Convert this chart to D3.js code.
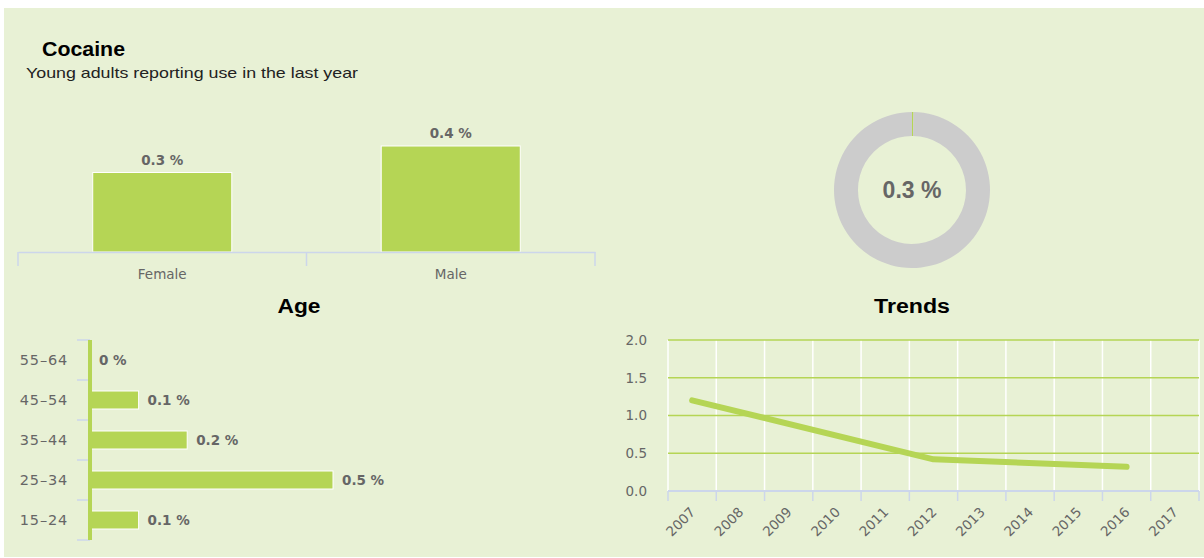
<!DOCTYPE html>
<html>
<head>
<meta charset="utf-8">
<script src="https://cdn.jsdelivr.net/npm/d3@7"></script>
<style>
  html, body { margin: 0; padding: 0; background: #ffffff; }
  svg { display: block; }
</style>
</head>
<body>
<svg id="chart" width="1204" height="558"></svg>
<script>
// ---------- DATA ----------
const titleText = "Cocaine";
const subtitleText = "Young adults reporting use in the last year";

const genderCategories = ["Female", "Male"];
const genderValues = [0.3, 0.4];

const overallValue = 0.3;

const ageCategories = ["55\u201364", "45\u201354", "35\u201344", "25\u201334", "15\u201324"];
const ageValues = [0, 0.1, 0.2, 0.5, 0.1];

const trendYears = ["2007", "2008", "2009", "2010", "2011", "2012", "2013", "2014", "2015", "2016", "2017"];
const trendPointYears = ["2007", "2012", "2016"];
const trendPointValues = [1.2, 0.42, 0.32];
const trendTicks = [0, 0.5, 1.0, 1.5, 2.0];

// ---------- STYLE ----------
const GREEN = "#b5d555";
const BG = "#e8f1d5";
const AXIS = "#ccd6eb";
const GREY_TXT = "#666666";
const LABEL_FONT = "'DejaVu Sans', Verdana, sans-serif";
const TITLE_FONT = "'Liberation Sans', Arial, Helvetica, sans-serif";

const svg = d3.select("#chart");

svg.append("rect").attr("x", 4).attr("y", 8).attr("width", 1200).attr("height", 549).attr("fill", BG);

// Titles
svg.append("text").attr("x", 42).attr("y", 56)
  .attr("font-family", TITLE_FONT).attr("font-weight", "bold").attr("font-size", 19.5)
  .attr("textLength", 83).attr("lengthAdjust", "spacingAndGlyphs")
  .attr("fill", "#000").text(titleText);
svg.append("text").attr("x", 26).attr("y", 78)
  .attr("font-family", TITLE_FONT).attr("font-size", 15)
  .attr("textLength", 332).attr("lengthAdjust", "spacingAndGlyphs")
  .attr("fill", "#222").text(subtitleText);

// ---------- GENDER BARS ----------
const gx = d3.scaleBand().domain(genderCategories).range([18, 595]).paddingInner(0.518).paddingOuter(0.259);
const gy = d3.scaleLinear().domain([0, 0.4]).range([252, 146]);

const gG = svg.append("g");
gG.selectAll("rect.g").data(genderValues).join("rect")
  .attr("x", (d, i) => gx(genderCategories[i]))
  .attr("y", d => gy(d))
  .attr("width", gx.bandwidth())
  .attr("height", d => gy(0) - gy(d))
  .attr("fill", GREEN).attr("stroke", "#fff").attr("stroke-width", 1);
gG.selectAll("text.v").data(genderValues).join("text")
  .attr("x", (d, i) => gx(genderCategories[i]) + gx.bandwidth() / 2)
  .attr("y", d => gy(d) - 8)
  .attr("text-anchor", "middle")
  .attr("font-family", LABEL_FONT).attr("font-weight", "bold").attr("font-size", 13.5)
  .attr("fill", GREY_TXT)
  .text(d => d + " %");

const gAxis = svg.append("g").attr("transform", "translate(0,252)")
  .call(d3.axisBottom(gx).tickSize(0).tickPadding(0));
gAxis.select(".domain").attr("stroke", AXIS).attr("stroke-width", 1.5);
gAxis.selectAll(".tick text").attr("font-family", LABEL_FONT).attr("font-size", 13.5)
  .attr("fill", GREY_TXT).attr("dy", null).attr("y", 27);
const gBounds = genderCategories.map(c => gx(c) - gx.step() * gx.paddingInner() / 2).concat([gx.range()[1]]);
gAxis.selectAll("line.b").data(gBounds).join("line")
  .attr("x1", d => d).attr("x2", d => d).attr("y1", 0).attr("y2", 14)
  .attr("stroke", AXIS).attr("stroke-width", 1.5);

// ---------- DONUT ----------
const pie = d3.pie().sort(null)([overallValue, 100 - overallValue]);
const arc = d3.arc().innerRadius(54).outerRadius(78);
const donut = svg.append("g").attr("transform", "translate(912,190)");
donut.selectAll("path").data(pie).join("path")
  .attr("d", arc)
  .attr("fill", (d, i) => i === 0 ? GREEN : "#cccccc");
donut.append("text").attr("text-anchor", "middle").attr("y", 8)
  .attr("font-family", TITLE_FONT).attr("font-weight", "bold").attr("font-size", 23)
  .attr("fill", GREY_TXT).text(overallValue + " %");

// ---------- SECTION TITLES ----------
svg.append("text").attr("x", 299).attr("y", 313).attr("text-anchor", "middle")
  .attr("font-family", TITLE_FONT).attr("font-weight", "bold").attr("font-size", 19.5)
  .attr("textLength", 43).attr("lengthAdjust", "spacingAndGlyphs")
  .attr("fill", "#000").text("Age");
svg.append("text").attr("x", 912).attr("y", 313).attr("text-anchor", "middle")
  .attr("font-family", TITLE_FONT).attr("font-weight", "bold").attr("font-size", 19.5)
  .attr("textLength", 76).attr("lengthAdjust", "spacingAndGlyphs")
  .attr("fill", "#000").text("Trends");

// ---------- AGE BARS ----------
const ay = d3.scaleBand().domain(ageCategories).range([340, 540]).paddingInner(0.55).paddingOuter(0.275);
const ax = d3.scaleLinear().domain([0, 0.5]).range([90, 333]);
const aG = svg.append("g");
const aBounds = ageCategories.map(c => ay(c) - ay.step() * ay.paddingInner() / 2).concat([ay.range()[1]]);
aG.selectAll("line.t").data(aBounds).join("line")
  .attr("x1", 77).attr("x2", 90).attr("y1", d => d).attr("y2", d => d)
  .attr("stroke", AXIS).attr("stroke-width", 1.5);
aG.selectAll("rect").data(ageValues).join("rect")
  .attr("x", ax(0))
  .attr("y", (d, i) => ay(ageCategories[i]))
  .attr("width", d => ax(d) - ax(0))
  .attr("height", ay.bandwidth())
  .attr("fill", GREEN).attr("stroke", "#fff").attr("stroke-width", 1);
aG.append("line").attr("x1", 90).attr("x2", 90).attr("y1", 340).attr("y2", 540)
  .attr("stroke", GREEN).attr("stroke-width", 4);
aG.selectAll("text.c").data(ageCategories).join("text")
  .attr("x", 68).attr("y", d => ay(d) + ay.bandwidth() / 2)
  .attr("dy", "0.36em").attr("text-anchor", "end")
  .attr("font-family", LABEL_FONT).attr("font-size", 14.5).attr("letter-spacing", 0.8)
  .attr("fill", GREY_TXT).text(d => d);
aG.selectAll("text.v").data(ageValues).join("text")
  .attr("x", d => ax(d) + 9).attr("y", (d, i) => ay(ageCategories[i]) + ay.bandwidth() / 2)
  .attr("dy", "0.4em")
  .attr("font-family", LABEL_FONT).attr("font-weight", "bold").attr("font-size", 13.5)
  .attr("fill", GREY_TXT).text(d => d + " %");

// ---------- TRENDS ----------
const tx = d3.scaleBand().domain(trendYears).range([668, 1199]).padding(0);
const ty = d3.scaleLinear().domain([0, 2]).range([491, 340]);
const tG = svg.append("g");
const tBounds = trendYears.map(y => tx(y)).concat([tx.range()[1]]);
tG.selectAll("line.vg").data(tBounds).join("line")
  .attr("x1", d => d).attr("x2", d => d).attr("y1", ty(2)).attr("y2", ty(0))
  .attr("stroke", "#ffffff").attr("stroke-width", 1.5);
tG.selectAll("line.hg").data(trendTicks.filter(t => t > 0)).join("line")
  .attr("x1", 668).attr("x2", 1199).attr("y1", d => ty(d)).attr("y2", d => ty(d))
  .attr("stroke", GREEN).attr("stroke-width", 1.5);
tG.selectAll("text.yt").data(trendTicks).join("text")
  .attr("x", 647).attr("y", d => ty(d)).attr("dy", "0.36em").attr("text-anchor", "end")
  .attr("font-family", LABEL_FONT).attr("font-size", 13.5)
  .attr("fill", GREY_TXT).text(d => d.toFixed(1));
tG.append("line").attr("x1", 668).attr("x2", 1199).attr("y1", ty(0)).attr("y2", ty(0))
  .attr("stroke", AXIS).attr("stroke-width", 2);
tG.selectAll("line.xt").data(tBounds).join("line")
  .attr("x1", d => d).attr("x2", d => d).attr("y1", ty(0)).attr("y2", ty(0) + 10)
  .attr("stroke", AXIS).attr("stroke-width", 1.5);
tG.selectAll("text.xl").data(trendYears).join("text")
  .attr("transform", d => `translate(${tx(d) + tx.bandwidth() / 2 + 4},${ty(0) + 22}) rotate(-45)`)
  .attr("text-anchor", "end")
  .attr("font-family", LABEL_FONT).attr("font-size", 13.5)
  .attr("fill", GREY_TXT).text(d => d);
const line = d3.line()
  .x((d, i) => tx(trendPointYears[i]) + tx.bandwidth() / 2)
  .y(d => ty(d));
tG.append("path").attr("d", line(trendPointValues))
  .attr("fill", "none").attr("stroke", GREEN).attr("stroke-width", 6)
  .attr("stroke-linecap", "round").attr("stroke-linejoin", "round");
</script>
</body>
</html>
